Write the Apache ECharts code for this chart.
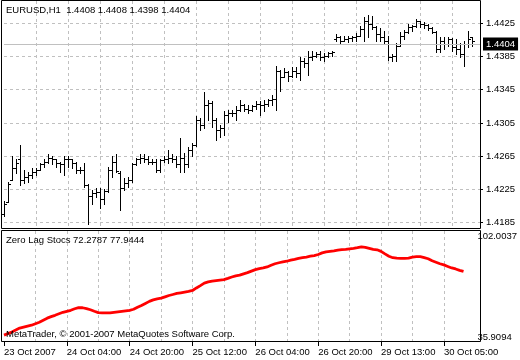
<!DOCTYPE html>
<html><head><meta charset="utf-8">
<script src="https://cdn.jsdelivr.net/npm/echarts@6/dist/echarts.min.js"></script>
<style>html,body{margin:0;padding:0;background:#fff}#c{width:520px;height:360px}</style>
</head><body><div id="c"></div>
<script>
// ---- data ----
const chartTitle = 'EURUSD,H1  1.4408 1.4408 1.4398 1.4404';
const indicatorTitle = 'Zero Lag Stocs 72.2787 77.9444';
const copyright = 'MetaTrader, \u00A9 2001-2007 MetaQuotes Software Corp.';
const timeTicks = ['23 Oct 2007', '24 Oct 04:00', '24 Oct 20:00', '25 Oct 12:00', '26 Oct 04:00', '26 Oct 20:00', '29 Oct 13:00', '30 Oct 05:00'];
const priceTicks = [1.4185, 1.4225, 1.4265, 1.4305, 1.4345, 1.4385, 1.4425];
const lastPrice = 1.4404;
const indicatorTicks = [35.9094, 102.0037];

const opens = [1.4195,1.4210,1.4236,1.4251,1.4261,1.4236,1.4240,1.4242,1.4246,1.4248,
1.4255,1.4258,1.4263,1.4261,1.4257,1.4255,1.4261,1.4261,1.4257,1.4248,
1.4248,1.4230,1.4217,1.4221,1.4222,1.4214,1.4223,1.4248,1.4258,1.4245,
1.4227,1.4233,1.4236,1.4255,1.4261,1.4263,1.4261,1.4258,1.4258,1.4248,
1.4260,1.4262,1.4263,1.4262,1.4255,1.4263,1.4255,1.4273,1.4279,1.4309,
1.4303,1.4327,1.4329,1.4309,1.4297,1.4299,1.4315,1.4317,1.4317,1.4321,
1.4327,1.4322,1.4321,1.4325,1.4328,1.4326,1.4328,1.4332,1.4334,1.4367,
1.4360,1.4366,1.4361,1.4367,1.4365,1.4379,1.4377,1.4384,1.4386,1.4388,
1.4384,1.4386,1.4389,1.4406,1.4408,1.4403,1.4406,1.4407,1.4408,1.4410,
1.4418,1.4427,1.4424,1.4420,1.4412,1.4408,1.4403,1.4384,1.4385,1.4398,
1.4410,1.4414,1.4420,1.4421,1.4427,1.4424,1.4423,1.4419,1.4414,1.4394,
1.4403,1.4400,1.4406,1.4396,1.4394,1.4388,1.4400,1.4408];
const highs = [1.4211,1.4234,1.4265,1.4261,1.4279,1.4248,1.4246,1.4251,1.4251,1.4257,
1.4261,1.4267,1.4265,1.4262,1.4258,1.4265,1.4265,1.4262,1.4258,1.4252,
1.4257,1.4231,1.4224,1.4227,1.4227,1.4225,1.4252,1.4265,1.4267,1.4247,
1.4239,1.4240,1.4257,1.4263,1.4267,1.4268,1.4265,1.4262,1.4261,1.4261,
1.4265,1.4273,1.4267,1.4265,1.4287,1.4269,1.4276,1.4281,1.4313,1.4311,
1.4342,1.4333,1.4331,1.4311,1.4303,1.4319,1.4321,1.4321,1.4325,1.4333,
1.4328,1.4326,1.4327,1.4331,1.4331,1.4332,1.4334,1.4338,1.4373,1.4369,
1.4371,1.4368,1.4372,1.4372,1.4384,1.4383,1.4391,1.4391,1.4390,1.4391,
1.4389,1.4390,1.4391,1.4412,1.4409,1.4409,1.4409,1.4410,1.4413,1.4421,
1.4432,1.4435,1.4433,1.4421,1.4419,1.4415,1.4409,1.4388,1.4401,1.4414,
1.4417,1.4424,1.4423,1.4430,1.4428,1.4426,1.4424,1.4420,1.4415,1.4408,
1.4408,1.4408,1.4407,1.4406,1.4401,1.4403,1.4415,1.4408];
const lows = [1.4193,1.4210,1.4236,1.4245,1.4230,1.4233,1.4234,1.4239,1.4242,1.4248,
1.4252,1.4257,1.4255,1.4252,1.4246,1.4242,1.4252,1.4251,1.4245,1.4245,
1.4228,1.4184,1.4208,1.4216,1.4203,1.4207,1.4222,1.4240,1.4246,1.4200,
1.4224,1.4228,1.4234,1.4254,1.4257,1.4258,1.4256,1.4255,1.4246,1.4246,
1.4258,1.4257,1.4258,1.4252,1.4246,1.4246,1.4252,1.4265,1.4277,1.4297,
1.4299,1.4309,1.4300,1.4285,1.4288,1.4291,1.4306,1.4313,1.4309,1.4319,
1.4319,1.4317,1.4319,1.4322,1.4315,1.4319,1.4325,1.4327,1.4321,1.4343,
1.4360,1.4355,1.4360,1.4360,1.4357,1.4372,1.4363,1.4381,1.4384,1.4381,
1.4379,1.4384,1.4386,1.4403,1.4401,1.4403,1.4402,1.4404,1.4403,1.4409,
1.4403,1.4408,1.4418,1.4403,1.4403,1.4400,1.4381,1.4379,1.4379,1.4397,
1.4406,1.4413,1.4415,1.4420,1.4420,1.4419,1.4417,1.4413,1.4390,1.4390,
1.4394,1.4398,1.4391,1.4388,1.4384,1.4373,1.4396,1.4398];
const closes = [1.4208,1.4232,1.4251,1.4257,1.4236,1.4240,1.4242,1.4246,1.4248,1.4255,
1.4258,1.4263,1.4261,1.4257,1.4255,1.4261,1.4261,1.4257,1.4248,1.4248,
1.4230,1.4217,1.4221,1.4222,1.4214,1.4223,1.4248,1.4258,1.4247,1.4227,
1.4233,1.4236,1.4255,1.4261,1.4263,1.4261,1.4258,1.4258,1.4248,1.4260,
1.4262,1.4263,1.4262,1.4255,1.4263,1.4255,1.4273,1.4279,1.4309,1.4303,
1.4327,1.4329,1.4309,1.4297,1.4299,1.4315,1.4317,1.4317,1.4321,1.4327,
1.4322,1.4321,1.4325,1.4328,1.4326,1.4328,1.4332,1.4334,1.4367,1.4360,
1.4366,1.4361,1.4367,1.4365,1.4379,1.4377,1.4384,1.4386,1.4388,1.4384,
1.4386,1.4389,1.4390,1.4408,1.4403,1.4406,1.4407,1.4408,1.4410,1.4418,
1.4427,1.4424,1.4420,1.4412,1.4408,1.4403,1.4384,1.4385,1.4398,1.4410,
1.4414,1.4420,1.4421,1.4427,1.4424,1.4423,1.4419,1.4414,1.4394,1.4403,
1.4400,1.4406,1.4396,1.4394,1.4388,1.4400,1.4406,1.4404];
const zlsValues = [40.0,40.9,41.8,43.0,44.2,44.8,45.4,45.9,46.8,47.7,
48.9,50.1,51.0,51.8,52.7,53.6,54.2,54.8,55.7,56.4,
56.3,55.8,55.1,54.2,53.4,53.2,53.2,53.3,53.6,53.9,
54.2,54.5,54.8,55.4,56.6,57.7,58.9,60.1,61.0,61.6,
62.0,62.8,63.6,64.2,64.8,65.2,65.6,66.0,66.6,68.1,
69.5,71.0,71.7,72.2,72.5,72.8,73.1,73.8,74.6,75.3,
75.7,76.5,77.2,78.1,79.0,79.6,80.0,80.6,81.6,82.5,
83.1,83.6,84.0,84.6,85.1,85.7,86.1,86.5,87.0,87.4,
88.0,89.0,89.6,89.9,90.2,90.6,90.9,91.1,91.4,91.7,
92.1,92.6,92.3,91.7,91.1,90.8,89.9,88.4,87.0,86.1,
85.8,85.7,85.7,85.9,86.5,86.7,86.7,86.2,85.5,84.3,
83.4,82.5,81.8,80.9,80.0,79.4,78.6,77.9444];

// ---- chart ----
const SLOTS = 120; // bar slots incl. empty right margin
const BARS_PER_LABEL = 16, BARS_PER_GRID = 8;
const categories = Array.from({length: SLOTS}, (_, i) => String(i));
const ohlc = opens.map((o, i) => [i, o, highs[i], lows[i], closes[i]]);
const FONT = 'Liberation Sans';
const FS = 9.5;
const gridLine = {show: true, lineStyle: {color: '#c0c0c0', type: [3, 3], width: 1}};

const chart = echarts.init(document.getElementById('c'), null, {renderer: 'canvas'});
chart.setOption({
  animation: false,
  backgroundColor: '#ffffff',
  textStyle: {fontFamily: FONT},
  title: [
    {text: chartTitle, left: 6, top: 5, padding: 0, textStyle: {fontSize: FS, fontWeight: 'normal', color: '#000', fontFamily: FONT}},
    {text: indicatorTitle, left: 6, top: 235, padding: 0, textStyle: {fontSize: FS, fontWeight: 'normal', color: '#000', fontFamily: FONT}},
    {text: copyright, left: 6, top: 329, padding: 0, textStyle: {fontSize: FS, fontWeight: 'normal', color: '#000', fontFamily: FONT}}
  ],
  grid: [
    {left: 1.5, top: 0.5, width: 479, height: 228, show: true, borderColor: '#000', borderWidth: 1, backgroundColor: 'transparent', z: 5},
    {left: 4, top: 1, width: 476, height: 227, containLabel: false},
    {left: 1.5, top: 230.5, width: 479, height: 111, show: true, borderColor: '#000', borderWidth: 1, backgroundColor: 'transparent', z: 5},
    {left: 4, top: 231, width: 476, height: 111, containLabel: false}
  ],
  xAxis: [
    {type: 'category', gridIndex: 1, data: categories, boundaryGap: false,
     axisLine: {show: false}, axisTick: {show: false}, axisLabel: {show: false},
     splitLine: Object.assign({interval: (i) => i > 0 && i % BARS_PER_GRID === 0}, gridLine)},
    {type: 'category', gridIndex: 3, data: categories, boundaryGap: false,
     axisLine: {show: false},
     axisTick: {show: true, interval: (i) => i % BARS_PER_LABEL === 0, length: 4, lineStyle: {color: '#000'}},
     axisLabel: {show: true, interval: (i) => i % BARS_PER_LABEL === 0, align: 'left', margin: 5,
       fontSize: FS, color: '#000', fontFamily: FONT,
       formatter: (v, i) => timeTicks[i / BARS_PER_LABEL] || ''},
     splitLine: Object.assign({interval: (i) => i > 0 && i % BARS_PER_GRID === 0}, gridLine)}
  ],
  yAxis: [
    {type: 'value', gridIndex: 1, position: 'right', min: 1.41786, max: 1.44516, scale: true,
     axisLine: {show: false},
     axisTick: {show: true, length: 3, customValues: priceTicks, lineStyle: {color: '#000'}},
     axisLabel: {show: true, customValues: priceTicks, margin: 6, fontSize: FS, color: '#000', fontFamily: FONT,
       formatter: (v) => v.toFixed(4)},
     splitLine: gridLine},
    {type: 'value', gridIndex: 3, position: 'right', min: indicatorTicks[0], max: indicatorTicks[1],
     axisLine: {show: false}, axisTick: {show: false},
     axisLabel: {show: true, customValues: indicatorTicks, margin: 6, fontSize: FS, color: '#000', fontFamily: FONT,
       verticalAlignMinLabel: 'bottom', verticalAlignMaxLabel: 'top',
       formatter: (v) => v.toFixed(4)},
     splitLine: {show: false}}
  ],
  series: [
    {type: 'custom', xAxisIndex: 0, yAxisIndex: 0, data: ohlc, encode: {x: 0, y: [1, 2, 3, 4]},
     z: 3, clip: false,
     renderItem: function (params, api) {
       const i = api.value(0);
       const pO = api.coord([i, api.value(1)]);
       const pH = api.coord([i, api.value(2)]);
       const pL = api.coord([i, api.value(3)]);
       const pC = api.coord([i, api.value(4)]);
       const n = Math.round(pH[0]);
       const x = n + 0.5;
       const st = {stroke: '#000', lineWidth: 1};
       const yo = Math.round(pO[1]) + 0.5, yc = Math.round(pC[1]) + 0.5;
       return {type: 'group', children: [
         {type: 'line', shape: {x1: x, y1: Math.round(pH[1]), x2: x, y2: Math.round(pL[1]) + 1}, style: st},
         {type: 'line', shape: {x1: n - 2, y1: yo, x2: n, y2: yo}, style: st},
         {type: 'line', shape: {x1: n + 1, y1: yc, x2: n + 3, y2: yc}, style: st}
       ]};
     },
     markLine: {silent: true, symbol: ['none', 'none'], animation: false,
       lineStyle: {color: '#c0c0c0', type: 'solid', width: 1},
       label: {show: true, position: 'end', distance: 3, formatter: () => lastPrice.toFixed(4),
         color: '#fff', backgroundColor: '#000', padding: [2, 3, 1, 3], fontSize: FS, fontFamily: FONT},
       data: [{yAxis: lastPrice}]}
    },
    {type: 'line', xAxisIndex: 1, yAxisIndex: 1, data: zlsValues, showSymbol: false, symbol: 'none',
     lineStyle: {color: '#ff0000', width: 2.8}, z: 3}
  ]
});
</script>
</body></html>
